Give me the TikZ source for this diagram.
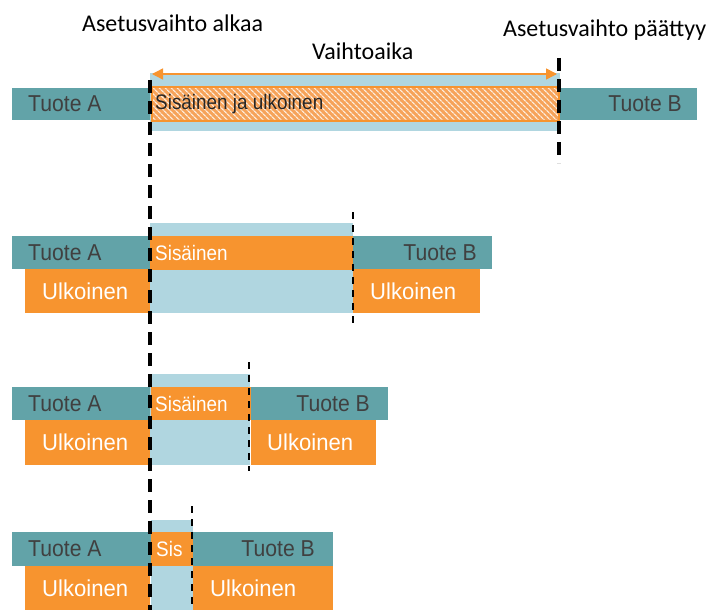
\documentclass[tikz,border=0pt]{standalone}
\usepackage{fontspec}
\usepackage{graphicx}
\setmainfont{Carlito}
\newfontfamily\arialf{Liberation Sans}
\usetikzlibrary{arrows.meta,patterns.meta}
\definecolor{teal1}{HTML}{62A3A8}
\definecolor{lblue}{HTML}{B0D6E0}
\definecolor{orng}{HTML}{F7942F}
\definecolor{txtgray}{HTML}{404040}
\definecolor{hatchor}{HTML}{F6A35A}
\newcommand{\narrowtxt}[2]{\scalebox{#1}[1]{#2}}
\begin{document}
\begin{tikzpicture}[x=1pt,y=-1pt,
 box/.style={inner sep=0,outer sep=0,anchor=north west,draw=none},
 tbox/.style={box,fill=teal1},
 obox/.style={box,fill=orng},
 bbox/.style={box,fill=lblue},
 prodtxt/.style={font=\arialf\fontsize{23}{26}\selectfont,text=txtgray,inner sep=0},
 exttxt/.style={font=\arialf\fontsize{23}{26}\selectfont,text=white,inner sep=0},
 inttxt/.style={font=\arialf\fontsize{21}{24}\selectfont,text=white,inner sep=0},
 headtxt/.style={font=\fontsize{24}{28}\selectfont,text=black,inner sep=0},
 bigdash/.style={line width=3.2pt,dash pattern=on 13pt off 8pt},
 smalldash/.style={line width=1.8pt,dash pattern=on 7pt off 6pt},
]
\useasboundingbox (0,0) rectangle (718,610);

% headers
\node[headtxt,anchor=base west] (h1) at (82,32) {Asetusvaihto alkaa};
\node[headtxt,anchor=base west] (h2) at (312,60) {Vaihtoaika};
\node[headtxt,anchor=base west] (h3) at (503,37) {Asetusvaihto päättyy};

% row 0
\node[bbox,minimum width=410,minimum height=58] (b0) at (150,73) {};
\node[box,minimum width=407,minimum height=34,preaction={fill=hatchor},
  pattern={Lines[angle=-45,distance=4pt,line width=1.3pt]},pattern color=white!80!hatchor,
  draw=orng,line width=1.5pt] (s0) at (152,87) {};
\node[inttxt,text=black!85,anchor=west] (s0t) at ([xshift=3]s0.west) {\narrowtxt{0.9}{Sisäinen ja ulkoinen}};
\coordinate (arrL) at (152,74);
\coordinate (arrR) at (557,74);
\draw[orng,line width=1.5pt,{Triangle[length=11pt,width=11pt]}-{Triangle[length=11pt,width=11pt]}] (arrL) -- (arrR);
\node[tbox,minimum width=138,minimum height=32] (tA0) at (12,88) {};
\node[prodtxt,anchor=west] (tA0t) at ([xshift=16]tA0.west) {\narrowtxt{0.92}{Tuote A}};
\node[tbox,minimum width=137,minimum height=32] (tB0) at (560,88) {};
\node[prodtxt,anchor=east] (tB0t) at ([xshift=-15]tB0.east) {\narrowtxt{0.92}{Tuote B}};

% row 1
\node[bbox,minimum width=203,minimum height=90] (b1) at (150,223) {};
\node[obox,minimum width=203,minimum height=34] (s1) at (150,236) {};
\node[inttxt,anchor=west] (s1t) at ([xshift=5]s1.west) {\narrowtxt{0.9}{Sisäinen}};
\node[tbox,minimum width=138,minimum height=33] (tA1) at (12,236) {};
\node[prodtxt,anchor=west] (tA1t) at ([xshift=16]tA1.west) {\narrowtxt{0.92}{Tuote A}};
\node[obox,minimum width=125,minimum height=44] (uA1) at (25,269) {};
\node[exttxt,anchor=west] (uA1t) at ([xshift=17]uA1.west) {\narrowtxt{0.96}{Ulkoinen}};
\node[tbox,minimum width=139,minimum height=33] (tB1) at (353,236) {};
\node[prodtxt,anchor=east] (tB1t) at ([xshift=-15]tB1.east) {\narrowtxt{0.92}{Tuote B}};
\node[obox,minimum width=127,minimum height=44] (uB1) at (353,269) {};
\node[exttxt,anchor=west] (uB1t) at ([xshift=17]uB1.west) {\narrowtxt{0.96}{Ulkoinen}};

% row 2
\node[bbox,minimum width=100,minimum height=91] (b2) at (150,374) {};
\node[obox,minimum width=100,minimum height=33] (s2) at (151,387) {};
\node[inttxt,anchor=west] (s2t) at ([xshift=4]s2.west) {\narrowtxt{0.9}{Sisäinen}};
\node[tbox,minimum width=138,minimum height=33] (tA2) at (12,387) {};
\node[prodtxt,anchor=west] (tA2t) at ([xshift=16]tA2.west) {\narrowtxt{0.92}{Tuote A}};
\node[obox,minimum width=125,minimum height=45] (uA2) at (25,420) {};
\node[exttxt,anchor=west] (uA2t) at ([xshift=17]uA2.west) {\narrowtxt{0.96}{Ulkoinen}};
\node[tbox,minimum width=137,minimum height=33] (tB2) at (251,387) {};
\node[prodtxt,anchor=east] (tB2t) at ([xshift=-18]tB2.east) {\narrowtxt{0.92}{Tuote B}};
\node[obox,minimum width=125,minimum height=45] (uB2) at (251,420) {};
\node[exttxt,anchor=west] (uB2t) at ([xshift=16]uB2.west) {\narrowtxt{0.96}{Ulkoinen}};

% row 3
\node[bbox,minimum width=42,minimum height=90] (b3) at (151,520) {};
\node[obox,minimum width=42,minimum height=34] (s3) at (151,532) {};
\node[inttxt,anchor=west] (s3t) at ([xshift=5]s3.west) {\narrowtxt{0.9}{Sis}};
\node[tbox,minimum width=139,minimum height=34] (tA3) at (12,532) {};
\node[prodtxt,anchor=west] (tA3t) at ([xshift=16]tA3.west) {\narrowtxt{0.92}{Tuote A}};
\node[obox,minimum width=125,minimum height=44] (uA3) at (25,566) {};
\node[exttxt,anchor=west] (uA3t) at ([xshift=17]uA3.west) {\narrowtxt{0.96}{Ulkoinen}};
\node[tbox,minimum width=140,minimum height=34] (tB3) at (193,532) {};
\node[prodtxt,anchor=east] (tB3t) at ([xshift=-18]tB3.east) {\narrowtxt{0.92}{Tuote B}};
\node[obox,minimum width=140,minimum height=44] (uB3) at (193,566) {};
\node[exttxt,anchor=west] (uB3t) at ([xshift=17]uB3.west) {\narrowtxt{0.96}{Ulkoinen}};

% dashed markers
\coordinate (d0a) at (150,80);
\coordinate (d0b) at (150,612);
\draw[bigdash] (d0a) -- (d0b);
\coordinate (d1a) at (559,58);
\coordinate (d1b) at (559,163);
\draw[bigdash] (d1a) -- (d1b);
\coordinate (d2a) at (353,212);
\coordinate (d2b) at (353,326);
\draw[smalldash] (d2a) -- (d2b);
\coordinate (d3a) at (249,362);
\coordinate (d3b) at (249,471);
\draw[smalldash] (d3a) -- (d3b);
\coordinate (d4a) at (192,506);
\coordinate (d4b) at (192,612);
\draw[smalldash] (d4a) -- (d4b);
\end{tikzpicture}
\end{document}
